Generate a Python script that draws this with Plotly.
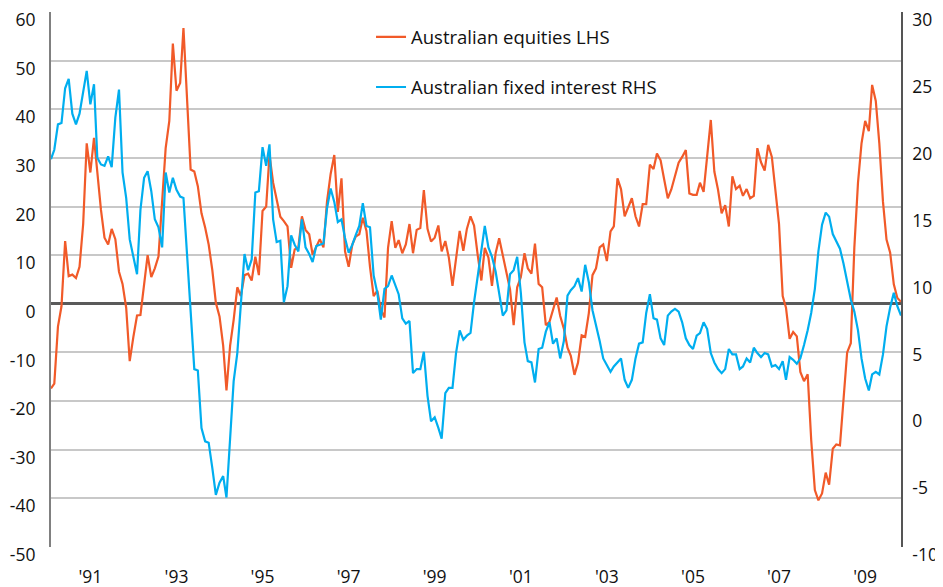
import pandas as pd
import plotly.graph_objects as go

# Monthly observations, Feb 1990 .. Nov 2009
start_month = "1990-02-01"

equities_lhs = [
    -17.4, -16.4, -4.7, -0.5, 12.9, 5.7, 6.0, 5.3, 7.6, 16.4,
    33.0, 27.0, 34.1, 27.0, 19.3, 13.6, 12.2, 15.4, 13.3, 6.6,
    4.1, -0.8, -11.8, -6.8, -2.4, -2.3, 3.7, 10.0, 5.5, 7.3,
    9.7, 20.7, 32.0, 37.6, 53.5, 43.8, 45.4, 56.7, 42.6, 27.6,
    27.2, 24.2, 18.6, 15.7, 12.2, 6.9, 0.2, -2.6, -8.6, -17.8,
    -8.6, -3.3, 3.4, 1.6, 5.9, 6.2, 4.8, 9.7, 5.9, 19.1,
    20.0, 30.6, 24.9, 21.7, 17.9, 17.0, 15.9, 7.4, 11.2, 11.6,
    18.0, 15.2, 14.3, 10.1, 11.6, 13.3, 11.6, 21.0, 26.7, 30.6,
    18.9, 25.8, 10.8, 7.6, 12.2, 13.8, 14.3, 17.7, 15.0, 7.6,
    1.6, 2.7, -1.2, -2.8, 11.5, 17.0, 11.5, 13.1, 10.4, 12.2,
    16.4, 10.4, 15.2, 15.6, 23.4, 15.4, 12.8, 13.6, 16.1, 10.8,
    12.9, 9.5, 3.7, 9.5, 15.0, 10.9, 15.4, 18.0, 16.1, 10.0,
    4.8, 11.5, 9.5, 3.7, 10.4, 13.5, 9.7, 6.6, 3.0, -4.4,
    3.4, 5.5, 10.4, 7.3, 6.2, 12.4, 4.1, 3.4, -4.4, -3.7,
    -1.2, 1.3, -2.5, -5.1, -9.0, -10.7, -14.6, -12.1, -6.5, -6.8,
    -1.9, 5.9, 7.3, 11.6, 12.2, 8.8, 14.9, 15.9, 25.8, 23.6,
    18.0, 20.0, 21.7, 18.0, 15.9, 20.5, 20.5, 28.6, 27.7, 30.9,
    29.5, 25.6, 21.7, 23.5, 26.2, 29.0, 30.2, 31.6, 22.7, 22.4,
    22.4, 24.9, 23.0, 30.6, 37.8, 27.2, 23.5, 18.6, 20.3, 15.9,
    26.2, 23.6, 24.3, 22.2, 23.6, 21.7, 22.2, 32.0, 29.1, 27.4,
    32.7, 30.2, 23.5, 16.4, 1.6, -0.8, -7.2, -5.8, -6.7, -14.0,
    -15.9, -14.5, -28.0, -38.3, -40.4, -39.0, -34.7, -37.2, -29.8, -28.9,
    -29.1, -19.5, -10.0, -8.1, 11.5, 24.9, 33.0, 37.6, 35.5, 45.0,
    41.7, 33.0, 21.0, 13.2, 10.5, 4.0, 1.2, 0.4,
]

fixed_interest_rhs = [
    19.0, 19.7, 21.6, 21.7, 24.3, 25.0, 22.4, 21.6, 22.4, 23.9,
    25.6, 23.1, 24.6, 19.1, 18.6, 18.5, 19.2, 18.4, 22.1, 24.2,
    18.0, 16.1, 13.0, 11.7, 10.4, 15.2, 17.6, 18.1, 16.6, 14.5,
    13.9, 12.4, 18.0, 16.5, 17.6, 16.7, 16.2, 16.1, 11.5, 7.8,
    3.3, 3.2, -1.1, -2.1, -2.2, -4.1, -6.1, -5.2, -4.7, -6.3,
    -2.0, 2.4, 4.5, 8.4, 11.9, 10.7, 11.5, 16.5, 16.6, 19.9,
    18.5, 20.1, 14.5, 12.8, 12.9, 8.3, 9.5, 13.3, 12.6, 12.1,
    14.5, 12.4, 11.9, 11.3, 12.5, 12.6, 12.7, 15.3, 16.8, 15.8,
    14.3, 14.5, 13.1, 12.0, 12.6, 13.3, 14.0, 15.7, 14.0, 13.9,
    10.3, 9.0, 7.0, 9.3, 9.5, 10.3, 9.5, 8.9, 7.1, 6.7,
    6.9, 3.0, 3.3, 3.3, 4.6, 1.3, -0.6, -0.3, -1.1, -1.9,
    1.5, 1.9, 1.9, 4.5, 6.2, 5.5, 5.8, 6.0, 8.3, 10.3,
    12.1, 14.0, 12.4, 11.7, 10.6, 8.8, 7.3, 7.7, 10.4, 10.7,
    11.7, 9.0, 5.3, 3.9, 3.8, 2.3, 4.8, 4.9, 6.1, 6.8,
    5.2, 5.6, 4.1, 5.4, 8.8, 9.2, 9.5, 10.1, 9.1, 11.1,
    9.8, 7.7, 6.6, 5.4, 4.1, 3.6, 3.1, 3.5, 3.8, 4.1,
    2.5, 1.9, 2.5, 4.1, 5.2, 5.3, 7.5, 8.9, 7.1, 7.0,
    5.6, 5.1, 7.3, 7.6, 7.8, 7.6, 6.8, 5.6, 5.1, 4.8,
    5.8, 6.0, 6.8, 6.3, 4.5, 3.8, 3.3, 3.0, 3.3, 4.8,
    4.4, 4.4, 3.3, 3.5, 4.1, 3.8, 4.9, 4.5, 4.2, 4.5,
    4.4, 3.5, 3.6, 3.3, 3.9, 2.5, 4.2, 4.0, 3.7, 4.1,
    5.1, 6.2, 7.5, 9.3, 12.1, 14.1, 15.0, 14.7, 13.4, 12.8,
    12.3, 11.2, 9.9, 8.5, 7.6, 6.2, 4.1, 2.6, 1.7, 2.9,
    3.1, 2.9, 4.4, 6.5, 7.9, 9.0, 8.0, 7.3,
]

series_names = ["Australian equities LHS", "Australian fixed interest RHS"]

tick_dates = ["1991-01-01", "1993-01-01", "1995-01-01", "1997-01-01", "1999-01-01",
              "2001-01-01", "2003-01-01", "2005-01-01", "2007-01-01", "2009-01-01"]
tick_labels = ["'91", "'93", "'95", "'97", "'99", "'01", "'03", "'05", "'07", "'09"]

lhs_ticks = [-50, -40, -30, -20, -10, 0, 10, 20, 30, 40, 50, 60]
lhs_labels = ["-50", "-40", "-30", "-20", "-10", "0", "10", "20", "30", "40", "50", "60"]
rhs_ticks = [-10, -5, 0, 5, 10, 15, 20, 25, 30]
rhs_labels = ["-10", "-5", "0", "5", "10", "15", "20", "25", "30"]

dates = pd.date_range(start_month, periods=len(equities_lhs), freq="MS")

ORANGE = "#F15A29"
BLUE = "#00AEEF"
FONT = "Open Sans"
FS = 17.5
LEG_FS = 18.5

fig = go.Figure()
fig.add_trace(go.Scatter(x=dates, y=equities_lhs, mode="lines", name=series_names[0],
                         line=dict(color=ORANGE, width=2.2), yaxis="y", legendgroup="a"))
fig.add_trace(go.Scatter(x=dates, y=fixed_interest_rhs, mode="lines", name=series_names[1],
                         line=dict(color=BLUE, width=2.2), yaxis="y2", legendgroup="b"))

# page body has an 8px default margin, so the figure is 8px smaller each way
fig.update_layout(
    width=935, height=579,
    margin=dict(l=43, r=42, t=4, b=40, autoexpand=False),
    paper_bgcolor="white", plot_bgcolor="white",
    font=dict(family=FONT, size=FS, color="#111111"),
    showlegend=True,
    legend=dict(x=0.3765, y=0.988, xanchor="left", yanchor="top",
                bgcolor="rgba(0,0,0,0)", font=dict(size=LEG_FS),
                traceorder="grouped", tracegroupgap=23),
    xaxis=dict(range=[dates[0], dates[-1]], showgrid=False, zeroline=False,
               showline=False, ticks="", tickvals=tick_dates, ticktext=tick_labels,
               tickfont=dict(size=FS), ticklabelstandoff=17, automargin=False,
               ticklabeloverflow="allow"),
    yaxis=dict(range=[-50, 60], tickvals=lhs_ticks, ticktext=lhs_labels,
               showgrid=True, gridcolor="#c8c8c8",
               gridwidth=1.5, zeroline=True, zerolinecolor="#5a5a5a", zerolinewidth=2.5,
               showline=True, linecolor="#808080", linewidth=2, ticks="",
               tickfont=dict(size=FS), ticklabelshift=8, ticklabelstandoff=10,
               automargin=False, ticklabeloverflow="allow"),
    yaxis2=dict(range=[-10, 30], tickvals=rhs_ticks, ticktext=rhs_labels,
                overlaying="y", side="right",
                showgrid=False, zeroline=False, showline=True, linecolor="#555555",
                linewidth=1.5, ticks="", tickfont=dict(size=FS), ticklabelshift=8,
                ticklabelstandoff=6, automargin=False, ticklabeloverflow="allow"),
)

fig.write_html("out.html")
